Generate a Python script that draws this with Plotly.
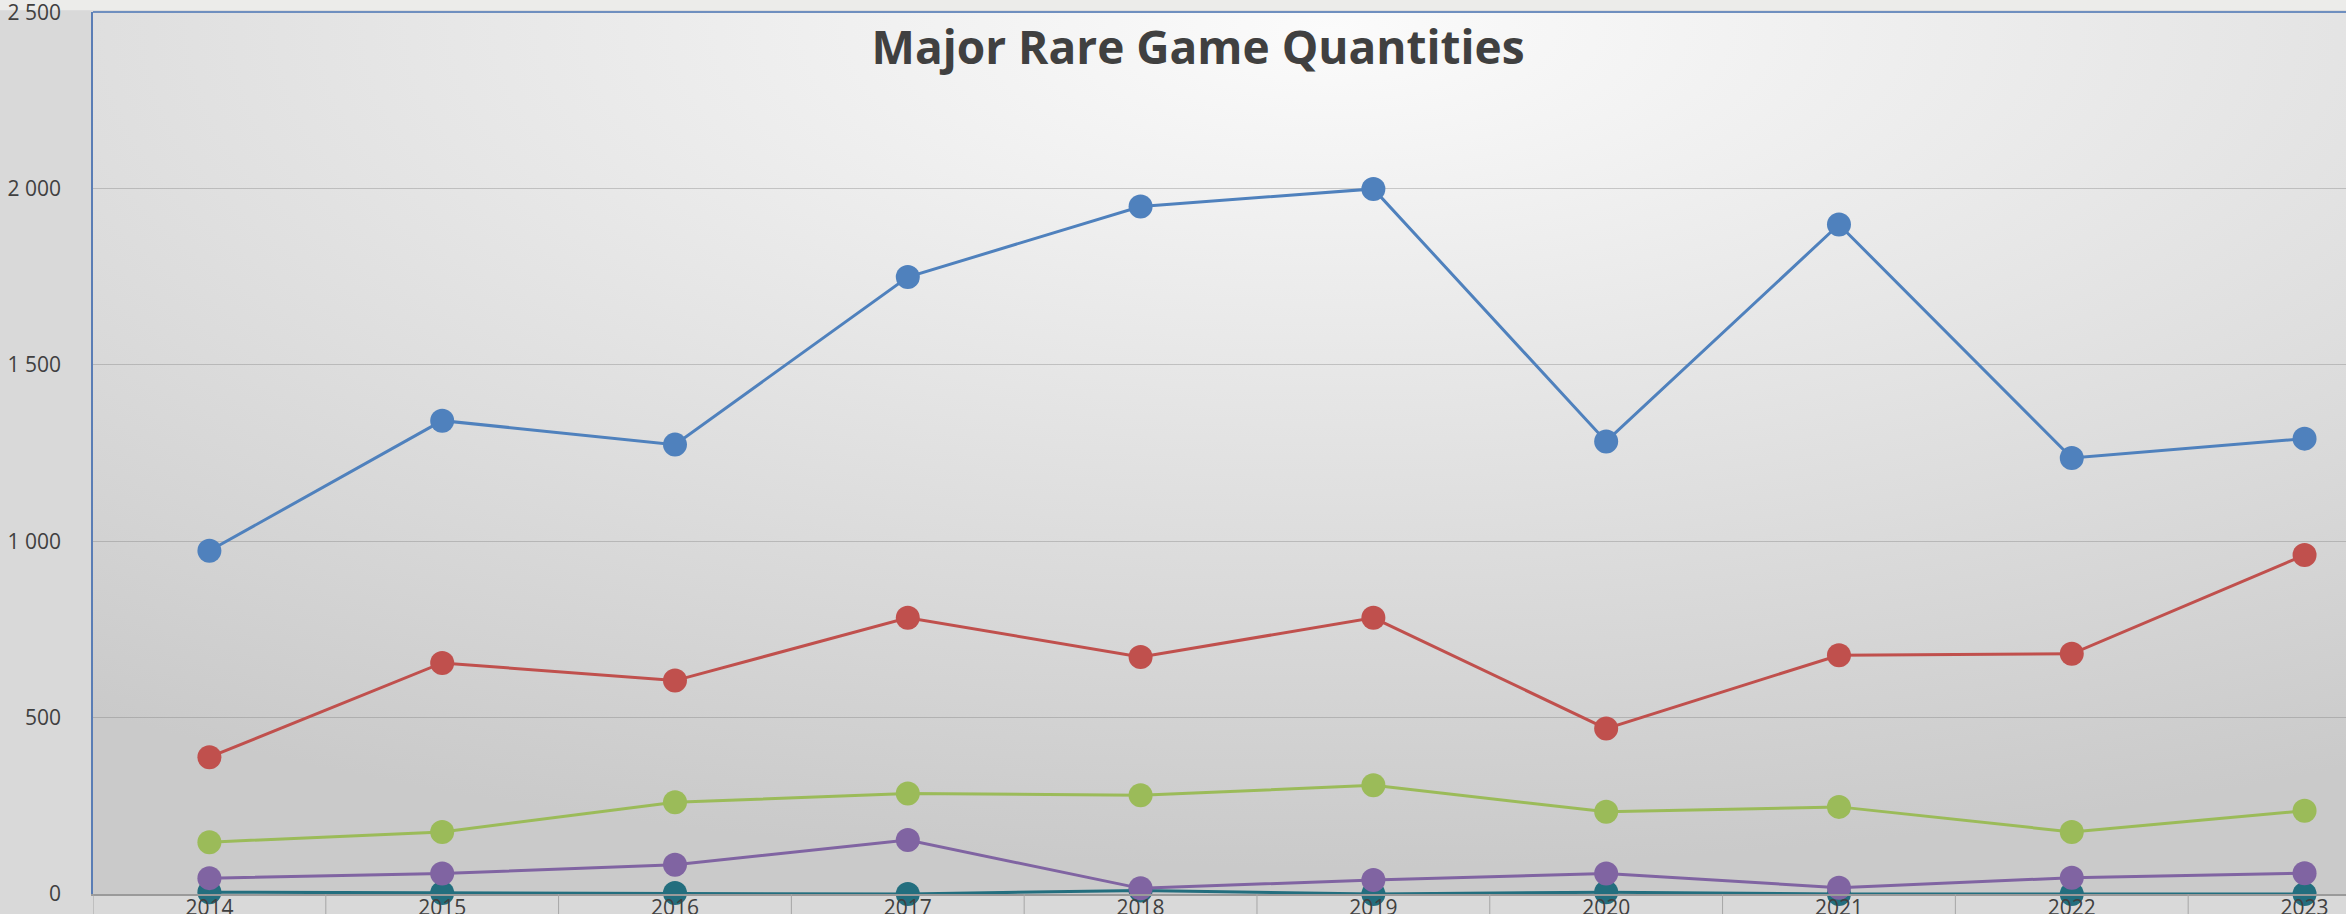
import base64
import plotly.graph_objects as go

# ── 数据 ──────────────────────────────────────────
years = ['2014', '2015', '2016', '2017', '2018', '2019', '2020', '2021', '2022', '2023']
series_blue = [973, 1342, 1274, 1749, 1949, 1999, 1283, 1898, 1236, 1291]
series_red = [388, 655, 605, 783, 672, 783, 469, 677, 681, 961]
series_green = [147, 176, 260, 285, 280, 308, 233, 247, 176, 236]
series_purple = [45, 58, 83, 153, 16, 40, 58, 18, 46, 59]
series_teal = [5, 3, 3, 0, 10, 0, 5, 0, 0, 0]
y_ticks = [0, 500, 1000, 1500, 2000, 2500]

W, H = 2346, 914
M_L, M_T, M_B = 93, 12, 20
FONT = 'Open Sans'

# 绘图区渐变背景
svg = ('<svg xmlns="http://www.w3.org/2000/svg" width="2253" height="882" '
       'viewBox="0 0 100 100" preserveAspectRatio="none"><defs>'
       '<radialGradient id="g" cx="0.55" cy="0.02" r="0.95" fx="0.55" fy="0.02">'
       '<stop offset="0" stop-color="#fbfbfb"/><stop offset="0.45" stop-color="#e5e5e5"/>'
       '<stop offset="1" stop-color="#cacaca"/></radialGradient></defs>'
       '<rect width="100" height="100" fill="url(#g)"/></svg>')
bg_uri = 'data:image/svg+xml;base64,' + base64.b64encode(svg.encode()).decode()

fig = go.Figure()
for name, vals, color in [('Series 5', series_teal, '#236E7E'),
                          ('Series 1', series_blue, '#4F81BD'),
                          ('Series 2', series_red, '#C0504D'),
                          ('Series 3', series_green, '#9BBB59'),
                          ('Series 4', series_purple, '#8064A2')]:
    fig.add_trace(go.Scatter(
        x=years, y=vals, mode='lines+markers', name=name,
        line=dict(color=color, width=3),
        marker=dict(color=color, size=24), cliponaxis=False))

# 类别边界刻度线
for i in range(len(years) + 1):
    fig.add_shape(type='line', xref='x', yref='paper',
                  x0=i - 0.5, x1=i - 0.5, y0=0, y1=-0.04,
                  line=dict(color='#a6a6a6', width=1))
# 顶部边框
fig.add_shape(type='line', xref='paper', yref='paper', x0=0, x1=1, y0=1, y1=1,
              line=dict(color='#6f8fbf', width=2))
fig.add_shape(type='rect', xref='paper', yref='paper', x0=-0.05, x1=1, y0=1.002, y1=1.02,
              fillcolor='#ececea', line_width=0, layer='below')

fig.add_layout_image(dict(source=bg_uri, xref='paper', yref='paper', x=0, y=1,
                          sizex=1, sizey=1, xanchor='left', yanchor='top',
                          sizing='stretch', layer='below'))

fig.update_layout(
    width=W, height=H, margin=dict(l=M_L, r=0, t=M_T, b=M_B),
    paper_bgcolor='#d9d9d9', plot_bgcolor='rgba(0,0,0,0)',
    showlegend=False, separators='. ',
    font=dict(family=FONT, color='#404040'),
    title=dict(text='<b>Major Rare Game Quantities</b>', xref='paper', x=0.4905,
               xanchor='center', yref='container', y=1 - 48 / H, yanchor='middle',
               font=dict(family=FONT, size=46, color='#404040')),
    xaxis=dict(type='category', range=[-0.5, 9.178], showgrid=False,
               showline=True, linecolor='#9a9a9a', linewidth=1.5,
               ticks='', automargin=False, ticklabeloverflow='allow',
               ticklabelstandoff=-6,
               tickfont=dict(size=21, color='#404040')),
    yaxis=dict(range=[0, 2500.5], tickvals=y_ticks,
               tickformat=',d', showgrid=True, gridcolor='rgba(120,120,120,0.35)',
               gridwidth=1, zeroline=False, showline=True, linecolor='#5a7db5',
               linewidth=1.5, ticks='', ticklabelstandoff=26, automargin=False,
               ticklabeloverflow='allow',
               tickfont=dict(size=21, color='#404040')),
)

# 去掉页面默认边距，使图表贴齐窗口
fig.write_html('out.html', config={'displayModeBar': False}, post_script=(
    "document.body.style.margin='0';document.body.style.overflow='hidden';"))
